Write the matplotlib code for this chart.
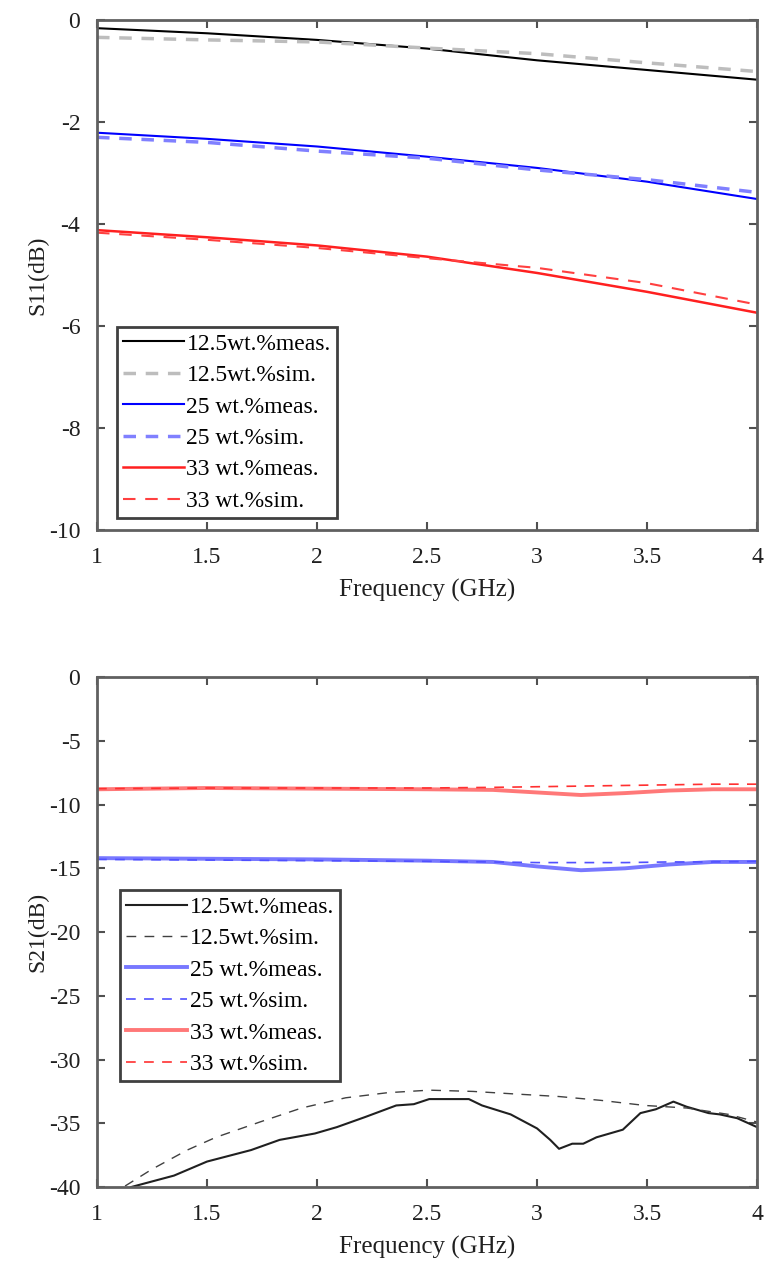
import matplotlib
matplotlib.use('Agg')
import matplotlib.pyplot as plt
import numpy as np

plt.rcParams['font.family'] = ['Liberation Serif', 'DejaVu Serif']
plt.rcParams['lines.scale_dashes'] = False
plt.rcParams['axes.unicode_minus'] = False

labels = ['12.5wt.%meas.', '12.5wt.%sim.', '25 wt.%meas.', '25 wt.%sim.',
          '33 wt.%meas.', '33 wt.%sim.']

# S11 (top)
f11 = [1.0, 1.5, 2.0, 2.5, 3.0, 3.5, 4.0]
s11_125_meas = [-0.16, -0.26, -0.39, -0.56, -0.79, -0.98, -1.17]
s11_125_sim = [-0.34, -0.39, -0.43, -0.55, -0.66, -0.84, -1.01]
s11_25_meas = [-2.21, -2.33, -2.48, -2.68, -2.90, -3.17, -3.51]
s11_25_sim = [-2.30, -2.40, -2.57, -2.71, -2.94, -3.13, -3.38]
s11_33_meas = [-4.12, -4.26, -4.42, -4.64, -4.96, -5.33, -5.74]
s11_33_sim = [-4.17, -4.31, -4.47, -4.67, -4.86, -5.16, -5.58]

# S21 (bottom)
f21 = [1.0, 1.5, 2.0, 2.5, 2.8, 3.0, 3.2, 3.4, 3.6, 3.8, 4.0]
s21_25_meas = [-14.2, -14.25, -14.3, -14.4, -14.5, -14.85, -15.15, -15.0, -14.7, -14.5, -14.5]
s21_25_sim = [-14.3, -14.35, -14.4, -14.45, -14.5, -14.55, -14.55, -14.55, -14.5, -14.5, -14.45]
s21_33_meas = [-8.8, -8.7, -8.75, -8.8, -8.85, -9.05, -9.25, -9.1, -8.9, -8.8, -8.8]
s21_33_sim = [-8.75, -8.7, -8.7, -8.7, -8.65, -8.6, -8.55, -8.5, -8.45, -8.4, -8.4]

f21_125_meas = [1.0, 1.155, 1.35, 1.5, 1.7, 1.83, 1.99, 2.09, 2.22, 2.36, 2.44, 2.51, 2.69,
                2.75, 2.88, 3.0, 3.06, 3.1, 3.16, 3.21, 3.27, 3.39, 3.47, 3.54, 3.62,
                3.68, 3.78, 3.83, 3.91, 4.0]
s21_125_meas = [-42.0, -40.0, -39.1, -38.0, -37.1, -36.3, -35.8, -35.3, -34.5, -33.6, -33.5,
                -33.1, -33.1, -33.6, -34.3, -35.4, -36.3, -37.0, -36.6, -36.6, -36.1,
                -35.5, -34.2, -33.9, -33.3, -33.7, -34.2, -34.3, -34.6, -35.3]
f21_125_sim = [1.0, 1.12, 1.25, 1.41, 1.54, 1.74, 1.93, 2.13, 2.32, 2.51, 2.71, 2.9, 3.1,
               3.29, 3.49, 3.68, 3.87, 4.0]
s21_125_sim = [-41.7, -40.0, -38.6, -37.1, -36.1, -34.9, -33.8, -33.0, -32.6, -32.4, -32.5,
               -32.7, -32.9, -33.2, -33.6, -33.8, -34.3, -34.9]

fig = plt.figure(figsize=(7.67, 12.67), dpi=100)
ax1 = fig.add_axes([0.1265, 0.5817, 0.8605, 0.4025])
ax2 = fig.add_axes([0.1265, 0.0631, 0.8605, 0.4025])

ax1.plot(f11, s11_125_meas, color='black', lw=1.5)
ax1.plot(f11, s11_125_sim, color='#bdbdbd', lw=2.5, dashes=(9, 7))
ax1.plot(f11, s11_25_meas, color='#0000ff', lw=1.5)
ax1.plot(f11, s11_25_sim, color='#8080ff', lw=2.5, dashes=(9, 7))
ax1.plot(f11, s11_33_meas, color='#ff2020', lw=1.8)
ax1.plot(f11, s11_33_sim, color='#ff4040', lw=1.5, dashes=(9, 7))

ax2.plot(f21_125_meas, s21_125_meas, color='#202020', lw=1.5)
ax2.plot(f21_125_sim, s21_125_sim, color='#404040', lw=1.0, dashes=(7, 6))
ax2.plot(f21, s21_25_meas, color='#7878ff', lw=2.8)
ax2.plot(f21, s21_25_sim, color='#5050ff', lw=1.2, dashes=(7, 6))
ax2.plot(f21, s21_33_meas, color='#ff7878', lw=2.8)
ax2.plot(f21, s21_33_sim, color='#ff3030', lw=1.2, dashes=(7, 6))

for ax, ylab, ylim, yt, lpos in [(ax1, 'S11(dB)', (-10, 0), np.arange(-10, 1, 2), (0.03, 0.024)),
                                 (ax2, 'S21(dB)', (-40, 0), np.arange(-40, 1, 5), (0.035, 0.208))]:
    ax.set_xlim(1, 4)
    ax.set_ylim(*ylim)
    ax.set_xticks([1, 1.5, 2, 2.5, 3, 3.5, 4])
    ax.set_xticklabels(['1', '1.5', '2', '2.5', '3', '3.5', '4'])
    ax.set_yticks(yt)
    ax.tick_params(direction='in', top=True, right=True, length=6, width=1.5,
                   color='#505050', labelsize=17, labelcolor='#202020', pad=12)
    for s in ax.spines.values():
        s.set_color('#606060')
        s.set_linewidth(2)
    ax.set_xlabel('Frequency (GHz)', fontsize=18, color='#202020', labelpad=8)
    ax.set_ylabel(ylab, fontsize=17, color='#202020', labelpad=0)
    leg = ax.legend(labels, loc='lower left', bbox_to_anchor=lpos, fontsize=17,
                    fancybox=False, handlelength=2.6, handletextpad=0.1,
                    labelspacing=0.42, borderpad=0.25, borderaxespad=0, framealpha=1)
    leg.get_frame().set_edgecolor('#404040')
    leg.get_frame().set_linewidth(2)

fig.savefig('out.png', dpi=100)
